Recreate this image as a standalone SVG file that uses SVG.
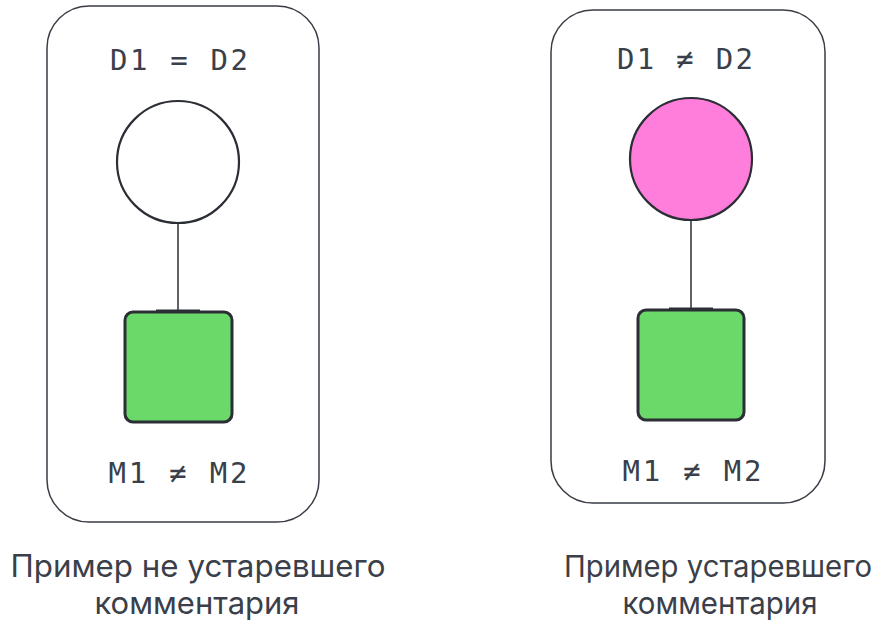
<svg xmlns="http://www.w3.org/2000/svg" width="887" height="623" viewBox="0 0 887 623">
  <style>
    .frame { fill: #ffffff; stroke: #3a3d45; stroke-width: 1.5; }
    .state { stroke: #2b2e35; stroke-width: 2.2; }
    .block { fill: #6ad96a; stroke: #2b2e35; stroke-width: 3; }
    .link { stroke: #2b2e35; stroke-width: 1.5; fill: none; }
    .cap { stroke: #2b2e35; stroke-width: 3; }
    .mono { font-family: "DejaVu Sans Mono", "Liberation Mono", monospace; font-size: 29px; fill: #3a3f4a; text-anchor: middle; }
    .label { font-family: Inter, "Noto Sans", sans-serif; font-size: 31px; fill: #3a3f4a; text-anchor: middle; }
  </style>
  <rect width="887" height="623" fill="#ffffff"/>

  <g id="left-panel">
    <rect class="frame" x="47" y="6" width="272" height="516" rx="42"/>
    <text class="mono" x="179" y="70" textLength="138" lengthAdjust="spacing">D1 = D2</text>
    <text class="mono" x="178" y="483" textLength="139" lengthAdjust="spacing">M1 ≠ M2</text>
  </g>
  <g id="left-state">
    <circle class="state" cx="178" cy="162" r="61" fill="#ffffff"/>
  </g>
  <g id="left-block">
    <rect class="block" x="125" y="312" width="107" height="110" rx="8"/>
    <line class="cap" x1="156" y1="311" x2="200" y2="311"/>
  </g>

  <g id="right-panel">
    <rect class="frame" x="551" y="10" width="274" height="493" rx="42"/>
    <text class="mono" x="685" y="69" textLength="136" lengthAdjust="spacing">D1 ≠ D2</text>
    <text class="mono" x="692" y="481" textLength="139" lengthAdjust="spacing">M1 ≠ M2</text>
  </g>
  <g id="right-state">
    <circle class="state" cx="691" cy="159" r="61" fill="#ff7ddb"/>
  </g>
  <g id="right-block">
    <rect class="block" x="638" y="310" width="106" height="110" rx="8"/>
    <line class="cap" x1="669" y1="309" x2="713" y2="309"/>
  </g>

  <g id="connectors">
    <line class="link" x1="178" y1="223" x2="178" y2="311"/>
    <line class="link" x1="691" y1="220" x2="691" y2="309"/>
  </g>

  <g id="captions">
    <text class="label" x="198" y="577" textLength="375" lengthAdjust="spacingAndGlyphs">Пример не устаревшего</text>
    <text class="label" x="197" y="614" textLength="205" lengthAdjust="spacingAndGlyphs">комментария</text>
    <text class="label" x="718" y="577" style="font-size:30px" textLength="308" lengthAdjust="spacingAndGlyphs">Пример устаревшего</text>
    <text class="label" x="720" y="614" textLength="195" lengthAdjust="spacingAndGlyphs">комментария</text>
  </g>
</svg>
